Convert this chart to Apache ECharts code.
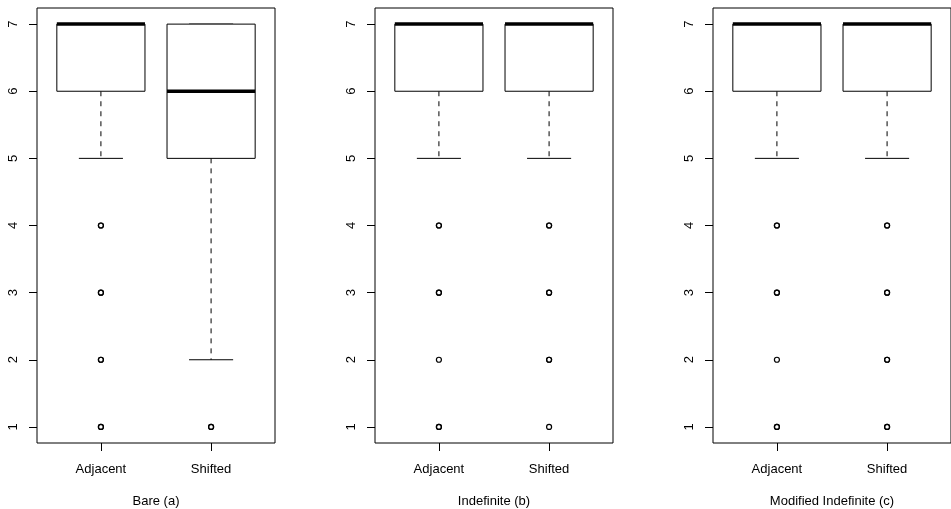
<!DOCTYPE html>
<html>
<head>
<meta charset="utf-8">
<script src="https://cdn.jsdelivr.net/npm/echarts@6/dist/echarts.min.js"></script>
<style>
html,body{margin:0;padding:0;background:#fff;}
#chart{width:951px;height:509px;}
</style>
</head>
<body>
<div id="chart"></div>
<script>
// ---- data ----
var categories = ['Adjacent', 'Shifted'];
var panelTitles = ['Bare (a)', 'Indefinite (b)', 'Modified Indefinite (c)'];
var yTicks = [1, 2, 3, 4, 5, 6, 7];
// box stats per panel: [lowerWhisker, Q1, median, Q3, upperWhisker] for Adjacent, Shifted
var bareStats = [[5, 6, 7, 7, 7], [2, 5, 6, 7, 7]];
var indefiniteStats = [[5, 6, 7, 7, 7], [5, 6, 7, 7, 7]];
var modifiedStats = [[5, 6, 7, 7, 7], [5, 6, 7, 7, 7]];
// outliers per panel (repeated values = overplotted points)
var bareOutliers = [[1, 1, 2, 2, 3, 3, 4, 4], [1, 1]];
var indefiniteOutliers = [[1, 1, 2, 3, 3, 4, 4], [1, 2, 2, 3, 3, 4, 4]];
var modifiedOutliers = [[1, 1, 2, 3, 3, 4, 4], [1, 1, 2, 2, 3, 3, 4, 4]];

var allStats = [bareStats, indefiniteStats, modifiedStats];
var allOutliers = [bareOutliers, indefiniteOutliers, modifiedOutliers];

var FONT = '"Liberation Sans", Arial, Helvetica, sans-serif';
var gridLefts = [37, 375, 713];

var grids = [], xAxes = [], yAxes = [], series = [];

function renderBox(params, api) {
  var x = api.value(0);
  var lo = api.value(1), q1 = api.value(2), med = api.value(3), q3 = api.value(4), hi = api.value(5);
  var bw = api.size([0.8, 0])[0];
  var half = bw / 2;
  var stapleHalf = bw / 4;
  var pLo = api.coord([x, lo]), pQ1 = api.coord([x, q1]), pMed = api.coord([x, med]),
      pQ3 = api.coord([x, q3]), pHi = api.coord([x, hi]);
  var cx = pQ1[0];
  var black = '#000';
  var children = [];
  children.push({type: 'line', shape: {x1: cx, y1: pQ1[1], x2: cx, y2: pLo[1]},
    style: {stroke: black, lineWidth: 1, lineDash: [5, 5]}});
  children.push({type: 'line', shape: {x1: cx, y1: pQ3[1], x2: cx, y2: pHi[1]},
    style: {stroke: black, lineWidth: 1, lineDash: [5, 5]}});
  children.push({type: 'line', shape: {x1: cx - stapleHalf, y1: pLo[1], x2: cx + stapleHalf, y2: pLo[1]},
    style: {stroke: black, lineWidth: 1}});
  children.push({type: 'line', shape: {x1: cx - stapleHalf, y1: pHi[1], x2: cx + stapleHalf, y2: pHi[1]},
    style: {stroke: black, lineWidth: 1}});
  children.push({type: 'rect', shape: {x: cx - half, y: pQ3[1], width: bw, height: pQ1[1] - pQ3[1]},
    style: {fill: '#fff', stroke: black, lineWidth: 1}});
  children.push({type: 'line', shape: {x1: cx - half, y1: pMed[1], x2: cx + half, y2: pMed[1]},
    style: {stroke: black, lineWidth: 3.5}});
  return {type: 'group', children: children};
}

for (var p = 0; p < 3; p++) {
  grids.push({left: gridLefts[p], top: 8, width: 238, height: 435, show: true,
    containLabel: false, outerBoundsMode: 'none',
    borderColor: '#000', borderWidth: 1, backgroundColor: 'transparent'});
  xAxes.push({
    type: 'value', gridIndex: p, min: 0.42, max: 2.58,
    splitLine: {show: false},
    axisLine: {show: false},
    axisTick: {show: true, length: 8, lineStyle: {color: '#000', width: 1}, customValues: [1, 2]},
    axisLabel: {show: true, customValues: [1, 2], margin: 20, fontSize: 13, color: '#000', fontFamily: FONT,
      formatter: function (v) { return categories[Math.round(v) - 1]; }},
    name: panelTitles[p], nameLocation: 'middle', nameGap: 52,
    nameTextStyle: {fontSize: 13, color: '#000', fontFamily: FONT}
  });
  yAxes.push({
    type: 'value', gridIndex: p, min: 0.76, max: 7.24,
    splitLine: {show: false},
    axisLine: {show: false},
    axisTick: {show: true, length: 8, lineStyle: {color: '#000', width: 1}, customValues: yTicks},
    axisLabel: {show: true, customValues: yTicks, rotate: 90, margin: 17, fontSize: 13, color: '#000', fontFamily: FONT}
  });
  var boxData = [];
  var st = allStats[p];
  for (var i = 0; i < st.length; i++) {
    boxData.push([i + 1].concat(st[i]));
  }
  series.push({
    type: 'custom', xAxisIndex: p, yAxisIndex: p,
    renderItem: renderBox, data: boxData, silent: true, clip: false,
    encode: {x: 0, y: [1, 2, 3, 4, 5]}
  });
  var outData = [];
  var ol = allOutliers[p];
  for (var j = 0; j < ol.length; j++) {
    for (var k = 0; k < ol[j].length; k++) outData.push([j + 1, ol[j][k]]);
  }
  series.push({
    type: 'scatter', xAxisIndex: p, yAxisIndex: p, data: outData,
    symbol: 'circle', symbolSize: 5, silent: true,
    itemStyle: {color: 'rgba(255,255,255,0)', borderColor: '#000', borderWidth: 1.2, opacity: 1}
  });
}

var chart = echarts.init(document.getElementById('chart'), null, {renderer: 'canvas'});
chart.setOption({
  animation: false,
  backgroundColor: '#fff',
  grid: grids, xAxis: xAxes, yAxis: yAxes, series: series
});
</script>
</body>
</html>
